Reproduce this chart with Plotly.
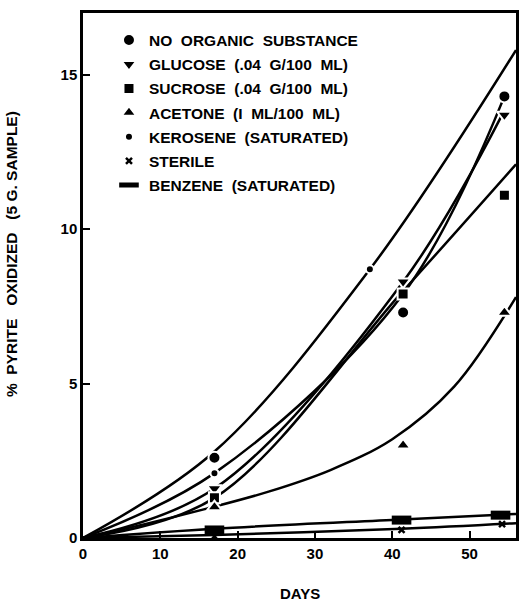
import plotly.graph_objects as go

# ---- measured data points (days, % pyrite oxidized) ----
days_obs = [17, 41.4, 54.5]
no_organic = [2.6, 7.3, 14.3]
glucose = [1.6, 8.3, 13.7]
sucrose = [1.3, 7.9, 11.1]
acetone = [1.0, 3.0, 7.3]
kero_days = [17, 37.1]
kerosene = [2.1, 8.7]
sterile_days = [17, 41.2, 54.2]
sterile = [0.05, 0.26, 0.45]
benzene_days = [17, 41.2, 54.0]
benzene = [0.26, 0.58, 0.74]

# ---- hand-fitted curves ----
curve_kero_x = [0, 17, 37.1, 56]
curve_kero_y = [0, 2.8, 8.7, 15.8]
curve_none_x = [0, 17, 41.4, 54.5]
curve_none_y = [0, 2.1, 7.9, 14.3]
curve_gluc_x = [0, 17, 41.4, 54.2]
curve_gluc_y = [0, 1.6, 8.3, 13.7]
curve_sucr_x = [0, 17, 41.4, 56]
curve_sucr_y = [0, 1.3, 8.0, 12.1]
curve_acet_x = [0, 8, 16, 24, 32, 40, 48, 56]
curve_acet_y = [0, 0.45, 0.95, 1.5, 2.2, 3.2, 4.9, 7.8]
curve_benz_x = [0, 17, 41.2, 56]
curve_benz_y = [0, 0.3, 0.6, 0.78]
curve_ster_x = [0, 17, 41.2, 56]
curve_ster_y = [0, 0.1, 0.3, 0.48]

legend_names = [
    "NO  ORGANIC  SUBSTANCE",
    "GLUCOSE  (.04  G/100  ML)",
    "SUCROSE  (.04  G/100  ML)",
    "ACETONE  (I  ML/100  ML)",
    "KEROSENE  (SATURATED)",
    "STERILE",
    "BENZENE  (SATURATED)",
]

x_ticks = [0, 10, 20, 30, 40, 50]
y_ticks = [0, 5, 10, 15]

FONT = "Liberation Sans"
fig = go.Figure()

for cx, cy in [(curve_kero_x, curve_kero_y), (curve_none_x, curve_none_y),
               (curve_gluc_x, curve_gluc_y), (curve_sucr_x, curve_sucr_y),
               (curve_acet_x, curve_acet_y), (curve_benz_x, curve_benz_y),
               (curve_ster_x, curve_ster_y)]:
    fig.add_trace(go.Scatter(x=cx, y=cy, mode="lines", showlegend=False,
                             line=dict(color="black", width=2.5, shape="spline", smoothing=1.0),
                             hoverinfo="skip"))

wl = dict(color="white", width=2)
series = [
    (days_obs, no_organic, dict(symbol="circle", size=12, color="black", line=wl)),
    (days_obs, glucose, dict(symbol="triangle-down", size=13, color="black", line=wl)),
    (days_obs, sucrose, dict(symbol="square", size=11, color="black", line=wl)),
    (days_obs, acetone, dict(symbol="triangle-up", size=13, color="black", line=wl)),
    (kero_days, kerosene, dict(symbol="circle", size=8, color="black", line=wl)),
    (sterile_days, sterile, dict(symbol="x-thin", size=6, color="black", line=dict(color="black", width=2.5))),
    (benzene_days, benzene, dict(symbol="line-ew", size=14, color="black", line=dict(color="black", width=9))),
]
for i, ((sx, sy, mk), name) in enumerate(zip(series, legend_names)):
    fig.add_trace(go.Scatter(x=sx, y=sy, mode="markers", marker=mk,
                             name="<b>" + name.replace("  ", "&nbsp; ") + "</b>",
                             legendgroup=str(i)))

axis_common = dict(showgrid=False, zeroline=False, showline=True, linecolor="black",
                   linewidth=2.5, mirror=True, ticks="inside", ticklen=7, tickwidth=2,
                   tickcolor="black", tickfont=dict(family=FONT, size=15, color="black"))
fig.update_xaxes(range=[0, 56], tickvals=x_ticks,
                 ticktext=["<b>%d</b>" % v for v in x_ticks], **axis_common)
fig.update_yaxes(range=[0, 17], tickvals=y_ticks,
                 ticktext=["<b>%d</b>" % v for v in y_ticks], **axis_common)

fig.add_annotation(xref="paper", yref="paper", x=-0.165, y=0.54, xanchor="center", yanchor="middle",
                   text="<b>%&nbsp;&nbsp;PYRITE&nbsp;&nbsp;&nbsp;OXIDIZED&nbsp;&nbsp;&nbsp;(5&nbsp;G.&nbsp;SAMPLE)</b>",
                   textangle=-90, showarrow=False, font=dict(family=FONT, size=15.5, color="black"))
fig.add_annotation(xref="paper", yref="paper", x=(302 - 83) / 436, y=-0.105, xanchor="center", yanchor="middle",
                   text="<b>DAYS</b>", showarrow=False, font=dict(family=FONT, size=15, color="black"))

fig.update_layout(
    width=521, height=601,
    margin=dict(l=83, r=2, t=13, b=63),
    paper_bgcolor="white", plot_bgcolor="white",
    showlegend=True,
    legend=dict(x=0.06, y=0.98, xanchor="left", yanchor="top", bgcolor="rgba(0,0,0,0)",
                font=dict(family=FONT, size=15.5, color="black"), traceorder="grouped",
                tracegroupgap=1, itemwidth=30),
)

fig.write_html("out.html")
